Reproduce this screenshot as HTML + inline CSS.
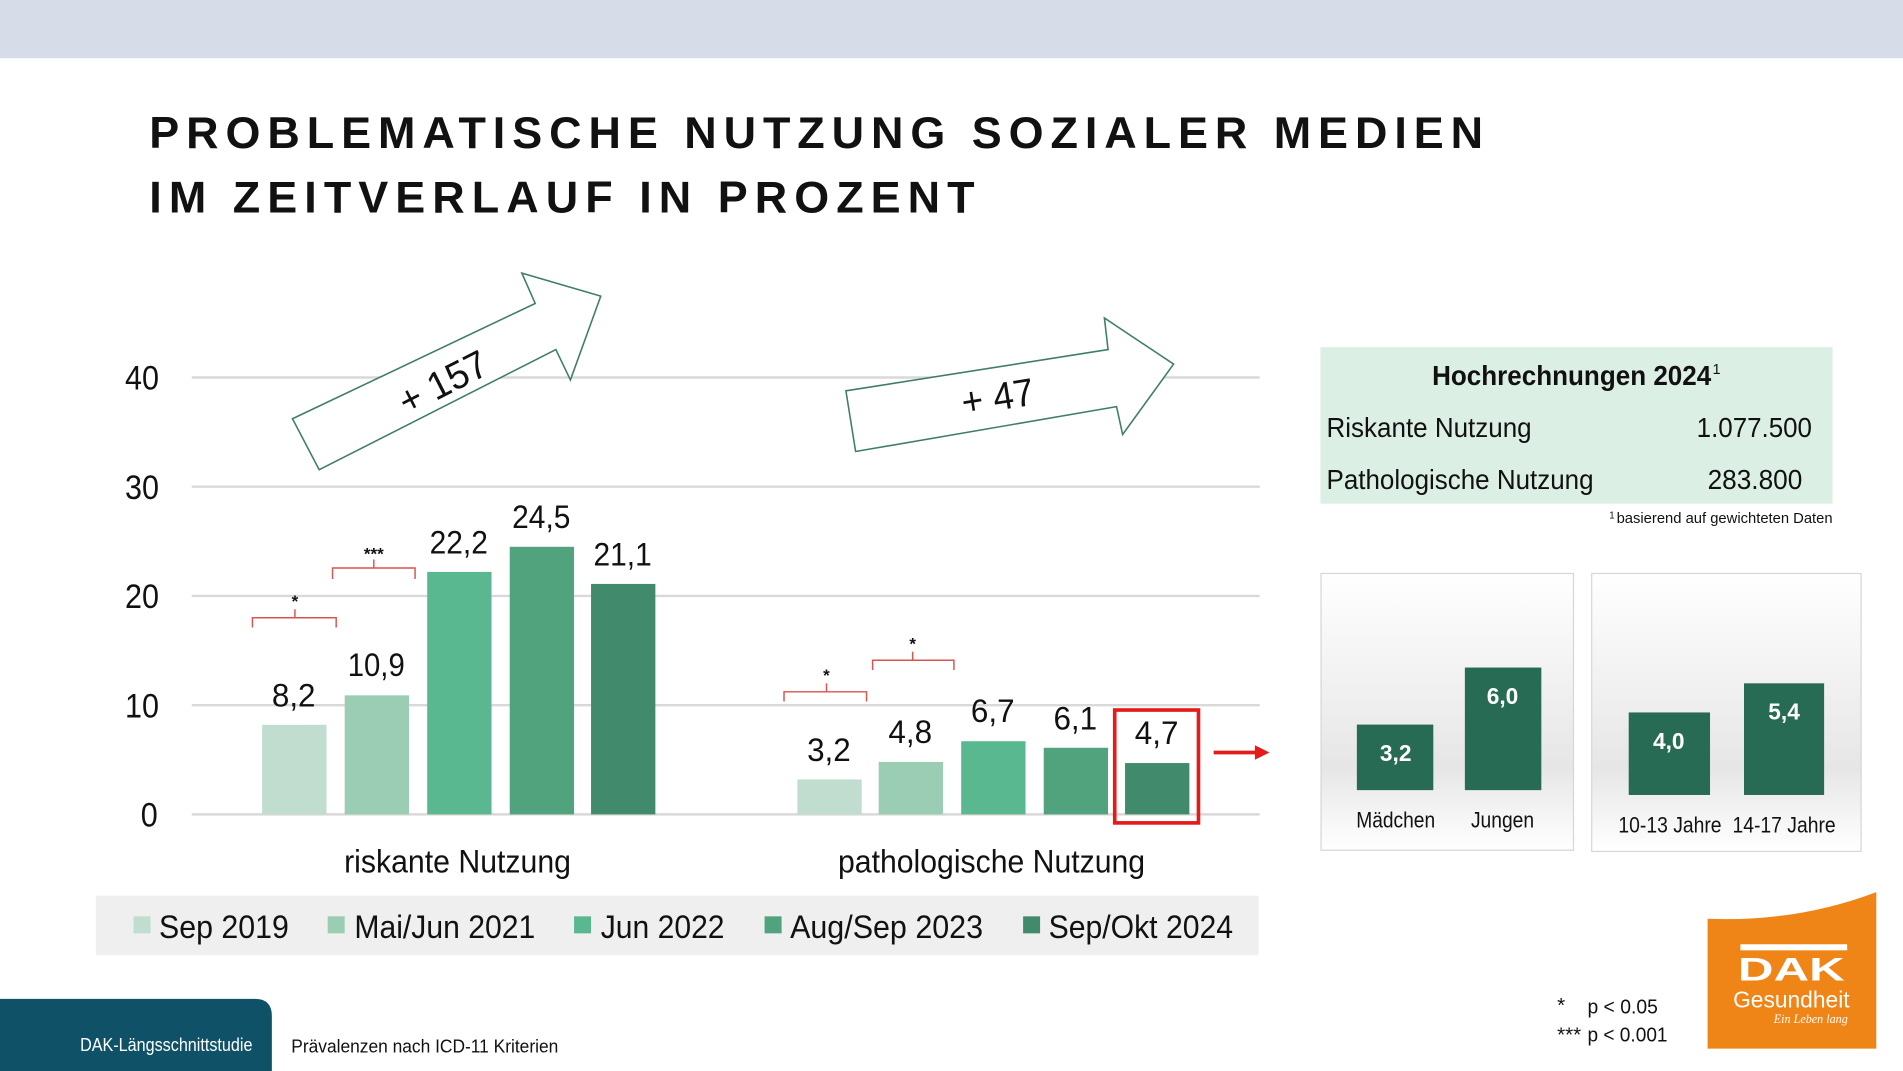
<!DOCTYPE html>
<html><head><meta charset="utf-8"><style>
html,body{margin:0;padding:0;background:#fff;overflow:hidden}
svg{display:block}
.n{font-family:"Liberation Sans Narrow","Liberation Sans",Arial,sans-serif}
.s{font-family:"Liberation Sans",Arial,sans-serif}
</style></head><body>
<svg width="1903" height="1071" viewBox="0 0 1568 882.4" xmlns="http://www.w3.org/2000/svg">
<defs>
<linearGradient id="g" x1="0" y1="0" x2="0" y2="1">
<stop offset="0" stop-color="#ffffff"/><stop offset="0.7" stop-color="#e6e6e6"/><stop offset="1" stop-color="#ffffff"/>
</linearGradient>
</defs>
<rect x="0" y="0" width="1568" height="48" fill="#d6dde8"/>
<text class="s" x="123" y="122" font-size="37" font-weight="bold" textLength="1099" lengthAdjust="spacing" fill="#111">PROBLEMATISCHE NUTZUNG SOZIALER MEDIEN</text>
<text class="s" x="123" y="175" font-size="37" font-weight="bold" textLength="680" lengthAdjust="spacing" fill="#111">IM ZEITVERLAUF IN PROZENT</text>

<g stroke="#d9d9d9" stroke-width="2">
<line x1="158" y1="311" x2="1038" y2="311"/><line x1="158" y1="401" x2="1038" y2="401"/>
<line x1="158" y1="491" x2="1038" y2="491"/><line x1="158" y1="581" x2="1038" y2="581"/>
<line x1="158" y1="671" x2="1038" y2="671"/></g>
<g class="n" font-size="28" fill="#111" text-anchor="middle">
<text x="117" y="321" textLength="28" lengthAdjust="spacingAndGlyphs">40</text><text x="117" y="411" textLength="28" lengthAdjust="spacingAndGlyphs">30</text><text x="117" y="501" textLength="28" lengthAdjust="spacingAndGlyphs">20</text><text x="117" y="591" textLength="28" lengthAdjust="spacingAndGlyphs">10</text><text x="123" y="681" textLength="14" lengthAdjust="spacingAndGlyphs">0</text></g>

<polygon points="241,345 441,250 430,225 495,244 470,313 458,288 263,387" fill="#fff" stroke="#3f7f63" stroke-width="1.3"/>
<text class="n" x="365" y="326" font-size="32" fill="#111" text-anchor="middle" textLength="78" lengthAdjust="spacingAndGlyphs" transform="rotate(-27 365 315)">+ 157</text>
<polygon points="697,322 913,288 910,262 967,300 925,358 920,335 705,372" fill="#fff" stroke="#3f7f63" stroke-width="1.3"/>
<text class="n" x="822" y="338" font-size="32" fill="#111" text-anchor="middle" textLength="60" lengthAdjust="spacingAndGlyphs" transform="rotate(-9 822 327)">+ 47</text>

<g>
<rect x="216" y="597.2" width="53" height="73.8" fill="#c0ddd0"/>
<rect x="284" y="572.9" width="53" height="98.1" fill="#9acdb3"/>
<rect x="352" y="471.2" width="53" height="199.8" fill="#5ab890"/>
<rect x="420" y="450.5" width="53" height="220.5" fill="#50a37d"/>
<rect x="487" y="481.1" width="53" height="189.9" fill="#428a6c"/>
<rect x="657" y="642.2" width="53" height="28.8" fill="#c0ddd0"/>
<rect x="724" y="627.8" width="53" height="43.2" fill="#9acdb3"/>
<rect x="792" y="610.7" width="53" height="60.3" fill="#5ab890"/>
<rect x="860" y="616.1" width="53" height="54.9" fill="#50a37d"/>
<rect x="927" y="628.7" width="53" height="42.3" fill="#428a6c"/>
</g>
<rect x="918.5" y="585" width="69" height="93" fill="none" stroke="#e31b1b" stroke-width="3"/>
<line x1="1000" y1="620" x2="1036" y2="620" stroke="#e31b1b" stroke-width="3"/>
<polygon points="1034,614 1046,620 1034,626" fill="#e31b1b"/>
<g class="n" font-size="27" fill="#111" text-anchor="middle" lengthAdjust="spacingAndGlyphs">
<text x="242" y="582" textLength="36" lengthAdjust="spacingAndGlyphs">8,2</text><text x="310" y="557" textLength="47" lengthAdjust="spacingAndGlyphs">10,9</text><text x="378" y="456" textLength="48" lengthAdjust="spacingAndGlyphs">22,2</text><text x="446" y="435" textLength="48" lengthAdjust="spacingAndGlyphs">24,5</text><text x="513" y="466" textLength="48" lengthAdjust="spacingAndGlyphs">21,1</text>
<text x="683" y="627" textLength="36" lengthAdjust="spacingAndGlyphs">3,2</text><text x="750" y="612" textLength="36" lengthAdjust="spacingAndGlyphs">4,8</text><text x="818" y="595" textLength="36" lengthAdjust="spacingAndGlyphs">6,7</text><text x="886" y="601" textLength="36" lengthAdjust="spacingAndGlyphs">6,1</text><text x="953" y="613" textLength="36" lengthAdjust="spacingAndGlyphs">4,7</text>
</g>
<g fill="none" stroke="#d9534f" stroke-width="1.2">
<path d="M208,517 V509 H243 V502 M243,509 H277 V517"/>
<path d="M274,477 V468 H308 V461 M308,468 H342 V477"/>
<path d="M646,578 V570 H681 V563 M681,570 H714 V578"/>
<path d="M719,552 V544 H752 V537 M752,544 H786 V552"/>
</g>
<g class="s" font-size="14" font-weight="bold" fill="#111" text-anchor="middle">
<text x="243" y="500">*</text><text x="308" y="461">***</text><text x="681" y="561">*</text><text x="752" y="535">*</text></g>

<g class="n" font-size="27" fill="#111" text-anchor="middle">
<text x="377" y="719" textLength="187" lengthAdjust="spacingAndGlyphs">riskante Nutzung</text><text x="817" y="719" textLength="253" lengthAdjust="spacingAndGlyphs">pathologische Nutzung</text></g>

<rect x="79" y="738" width="958" height="49" fill="#efefef"/>
<g class="n" font-size="27" fill="#111">
<rect x="110" y="755" width="14" height="14" fill="#c0ddd0"/><text x="131" y="773" textLength="107" lengthAdjust="spacingAndGlyphs">Sep 2019</text>
<rect x="270" y="755" width="14" height="14" fill="#9acdb3"/><text x="292" y="773" textLength="149" lengthAdjust="spacingAndGlyphs">Mai/Jun 2021</text>
<rect x="473" y="755" width="14" height="14" fill="#5ab890"/><text x="495" y="773" textLength="102" lengthAdjust="spacingAndGlyphs">Jun 2022</text>
<rect x="630" y="755" width="14" height="14" fill="#50a37d"/><text x="651" y="773" textLength="159" lengthAdjust="spacingAndGlyphs">Aug/Sep 2023</text>
<rect x="843" y="755" width="14" height="14" fill="#428a6c"/><text x="864" y="773" textLength="152" lengthAdjust="spacingAndGlyphs">Sep/Okt 2024</text>
</g>

<rect x="1088" y="286" width="422" height="129" fill="#dcefe5"/>
<text class="n" x="1180" y="317" font-size="23" font-weight="bold" fill="#111" textLength="230" lengthAdjust="spacingAndGlyphs">Hochrechnungen 2024</text>
<text class="n" x="1411" y="308" font-size="12" fill="#111">1</text>
<g class="n" font-size="23" fill="#111">
<text x="1093" y="360" textLength="169" lengthAdjust="spacingAndGlyphs">Riskante Nutzung</text><text x="1398" y="360" textLength="95" lengthAdjust="spacingAndGlyphs">1.077.500</text>
<text x="1093" y="403" textLength="220" lengthAdjust="spacingAndGlyphs">Pathologische Nutzung</text><text x="1407" y="403" textLength="78" lengthAdjust="spacingAndGlyphs">283.800</text></g>
<text class="n" x="1326" y="427" font-size="8" fill="#111">1</text>
<text class="n" x="1332" y="431" font-size="12.5" fill="#111" textLength="178" lengthAdjust="spacingAndGlyphs">basierend auf gewichteten Daten</text>

<rect x="1088.5" y="472.5" width="208" height="228" fill="url(#g)" stroke="#d6d6d6"/>
<rect x="1311.5" y="472.5" width="222" height="229" fill="url(#g)" stroke="#d6d6d6"/>
<rect x="1118" y="597" width="63" height="54" fill="#276b55"/>
<rect x="1207" y="550" width="63" height="101" fill="#276b55"/>
<rect x="1342" y="587" width="67" height="68" fill="#276b55"/>
<rect x="1437" y="563" width="66" height="92" fill="#276b55"/>
<g class="n" font-size="19" font-weight="bold" fill="#fff" text-anchor="middle">
<text x="1150" y="627" textLength="26" lengthAdjust="spacingAndGlyphs">3,2</text><text x="1238" y="580" textLength="26" lengthAdjust="spacingAndGlyphs">6,0</text><text x="1375" y="617" textLength="26" lengthAdjust="spacingAndGlyphs">4,0</text><text x="1470" y="593" textLength="26" lengthAdjust="spacingAndGlyphs">5,4</text></g>
<g class="n" font-size="18" fill="#111" text-anchor="middle">
<text x="1150" y="682" textLength="65" lengthAdjust="spacingAndGlyphs">Mädchen</text><text x="1238" y="682" textLength="52" lengthAdjust="spacingAndGlyphs">Jungen</text><text x="1376" y="686" textLength="85" lengthAdjust="spacingAndGlyphs">10-13 Jahre</text><text x="1470" y="686" textLength="85" lengthAdjust="spacingAndGlyphs">14-17 Jahre</text></g>

<path d="M1407,757 Q1480,760 1546,735 V864 H1407 Z" fill="#ef8417"/>
<rect x="1434" y="778" width="88" height="5" fill="#fff"/>
<text class="s" x="1476" y="808" font-size="27" font-weight="900" fill="#fff" text-anchor="middle" textLength="88" lengthAdjust="spacingAndGlyphs">DAK</text>
<text class="n" x="1476" y="830" font-size="19" fill="#fff" text-anchor="middle" textLength="96" lengthAdjust="spacingAndGlyphs">Gesundheit</text>
<text x="1492" y="843" font-size="10" font-style="italic" fill="#fff" text-anchor="middle" font-family="Liberation Serif,serif">Ein Leben lang</text>

<g class="n" font-size="17" fill="#111">
<text x="1283" y="834">*</text><text x="1308" y="835" textLength="58" lengthAdjust="spacingAndGlyphs">p &lt; 0.05</text>
<text x="1283" y="858">***</text><text x="1308" y="858" textLength="66" lengthAdjust="spacingAndGlyphs">p &lt; 0.001</text></g>

<path d="M0,823 H210 Q224,823 224,837 V882.4 H0 Z" fill="#0f5268"/>
<text class="n" x="137" y="866" font-size="15" fill="#fff" text-anchor="middle" textLength="142" lengthAdjust="spacingAndGlyphs">DAK-Längsschnittstudie</text>
<text class="n" x="240" y="867" font-size="15" fill="#111" textLength="220" lengthAdjust="spacingAndGlyphs">Prävalenzen nach ICD-11 Kriterien</text>
</svg>
</body></html>
